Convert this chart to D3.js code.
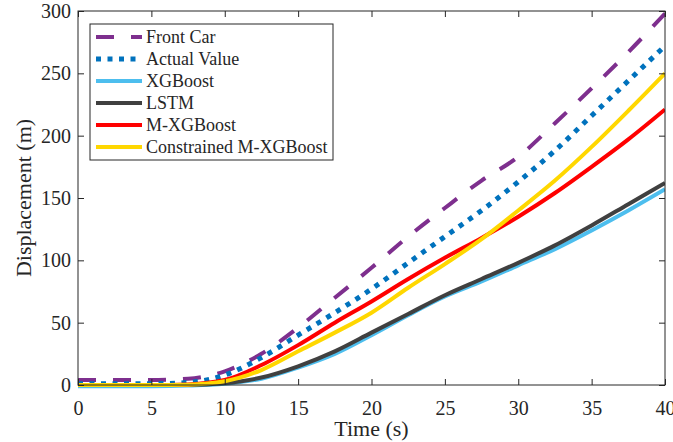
<!DOCTYPE html>
<html>
<head>
<meta charset="utf-8">
<script src="https://cdn.jsdelivr.net/npm/d3@7"></script>
<style>
    body { margin: 0; background: #fff; }
    text { font-family: "Liberation Serif", "Times New Roman", serif; fill: #262626; }
</style>
</head>
<body>
<svg width="673" height="442"></svg>
<script>
/** data */
var times = [0, 2.5, 5, 7.5, 10, 12.5, 15, 17.5, 20, 22.5, 25, 27.5, 30, 32.5, 35, 37.5, 40];
var frontCar = [4, 4, 4, 5, 11, 25, 46, 70, 94, 119, 142, 164, 183, 210, 238, 267, 298];
var actualValue = [1, 1, 1, 2, 8, 22, 40, 58, 77, 98, 119, 140, 163, 188, 216, 244, 272];
var xgboost = [-1, -1, -1, -0.5, 1, 5, 14, 25, 40, 56, 71, 83, 96, 109, 124, 140, 157];
var lstm = [0, 0, 0, 0, 1.5, 6, 15, 27, 42, 57, 72, 85, 98, 112, 128, 145, 162];
var mxgboost = [0, 0, 0, 0.5, 4, 16, 32, 50, 67, 85, 102, 118, 135, 154, 175, 197, 221];
var constrained = [0, 0, 0, 0.3, 3, 12, 27, 42, 58, 78, 97, 117, 140, 164, 191, 220, 250];
var xTicks = [0, 5, 10, 15, 20, 25, 30, 35, 40];
var yTicks = [0, 50, 100, 150, 200, 250, 300];
var seriesNames = ['Front Car', 'Actual Value', 'XGBoost', 'LSTM', 'M-XGBoost', 'Constrained M-XGBoost'];

function DisplacementChart() {
    var dc = this;
    /** Constants */
    dc.margin = { left: 78, right: 8, top: 11, bottom: 57 };
    dc.tickLen = 6;
    dc.axisColor = '#262626';

    dc.series = [
        { name: seriesNames[0], values: frontCar, color: '#7E2F8E', width: 4, dash: '18,17' },
        { name: seriesNames[1], values: actualValue, color: '#0072BD', width: 5, dash: '5,6.5' },
        { name: seriesNames[2], values: xgboost, color: '#4DBEEE', width: 4, dash: null },
        { name: seriesNames[3], values: lstm, color: '#404040', width: 4, dash: null },
        { name: seriesNames[4], values: mxgboost, color: '#FF0000', width: 4, dash: null },
        { name: seriesNames[5], values: constrained, color: '#FFD700', width: 4, dash: null }
    ];

    dc.init = function() {
        dc.svg = d3.select('svg');
        dc.width = +dc.svg.attr('width');
        dc.height = +dc.svg.attr('height');
        dc.x = d3.scaleLinear().domain([0, 40]).range([dc.margin.left, dc.width - dc.margin.right]);
        dc.y = d3.scaleLinear().domain([0, 300]).range([dc.height - dc.margin.bottom, dc.margin.top]);

        renderLines();
        renderAxes();
        renderLegend();
    }

    function renderLines() {
        dc.svg.append('clipPath').attr('id', 'plotClip')
            .append('rect')
            .attr('x', dc.x(0)).attr('y', dc.y(300))
            .attr('width', dc.x(40) - dc.x(0)).attr('height', dc.y(0) - dc.y(300) + 4);

        var line = d3.line()
            .x((d, i) => dc.x(times[i]))
            .y((d) => dc.y(d))
            .curve(d3.curveMonotoneX);

        dc.svg.append('g').attr('clip-path', 'url(#plotClip)')
            .selectAll('path').data(dc.series).enter().append('path')
            .attr('d', (s) => line(s.values))
            .attr('fill', 'none')
            .attr('stroke', (s) => s.color)
            .attr('stroke-width', (s) => s.width)
            .attr('stroke-dasharray', (s) => s.dash);
    }

    function renderAxes() {
        var g = dc.svg.append('g');
        var x0 = dc.x(0), x1 = dc.x(40), y0 = dc.y(0), y1 = dc.y(300);

        // inward ticks on all four sides, like a matlab box
        var bottom = d3.axisBottom(dc.x).tickValues(xTicks).tickSizeInner(-dc.tickLen).tickSizeOuter(0).tickPadding(16);
        var top = d3.axisTop(dc.x).tickValues(xTicks).tickSizeInner(-dc.tickLen).tickSizeOuter(0).tickFormat('');
        var left = d3.axisLeft(dc.y).tickValues(yTicks).tickSizeInner(-dc.tickLen).tickSizeOuter(0).tickPadding(7);
        var right = d3.axisRight(dc.y).tickValues(yTicks).tickSizeInner(-dc.tickLen).tickSizeOuter(0).tickFormat('');

        g.append('g').attr('transform', `translate(0,${y0})`).call(bottom);
        g.append('g').attr('transform', `translate(0,${y1})`).call(top);
        g.append('g').attr('transform', `translate(${x0},0)`).call(left);
        g.append('g').attr('transform', `translate(${x1},0)`).call(right);

        g.selectAll('.domain').remove();
        g.selectAll('.tick line').attr('stroke', dc.axisColor).attr('stroke-width', 1);
        g.selectAll('.tick text')
            .style('font-family', '"Liberation Serif", serif')
            .style('font-size', '20px')
            .attr('fill', dc.axisColor);

        g.append('rect')
            .attr('x', x0).attr('y', y1)
            .attr('width', x1 - x0).attr('height', y0 - y1)
            .attr('fill', 'none').attr('stroke', dc.axisColor).attr('stroke-width', 1);

        dc.svg.append('text')
            .attr('x', (x0 + x1) / 2).attr('y', dc.height - 6)
            .attr('text-anchor', 'middle')
            .style('font-size', '22px')
            .text('Time (s)');

        dc.svg.append('text')
            .attr('transform', `translate(31,${(y0 + y1) / 2}) rotate(-90)`)
            .attr('text-anchor', 'middle')
            .style('font-size', '22px')
            .text('Displacement (m)');
    }

    function renderLegend() {
        var lx = 90, ly = 24, lw = 243, lh = 136;
        var rowH = 22;
        var g = dc.svg.append('g');

        g.append('rect')
            .attr('x', lx).attr('y', ly).attr('width', lw).attr('height', lh)
            .attr('fill', 'white').attr('stroke', dc.axisColor).attr('stroke-width', 1);

        var rows = g.selectAll('.entry').data(dc.series).enter().append('g')
            .attr('class', 'entry')
            .attr('transform', (s, i) => `translate(${lx}, ${ly + 13 + i * rowH})`);

        rows.append('line')
            .attr('x1', 6).attr('x2', 52).attr('y1', 0).attr('y2', 0)
            .attr('stroke', (s) => s.color)
            .attr('stroke-width', (s) => s.width)
            .attr('stroke-dasharray', (s) => s.dash);

        rows.append('text')
            .attr('x', 56).attr('y', 6)
            .style('font-size', '18px')
            .text((s) => s.name);
    }
}

var chart = new DisplacementChart();
chart.init();
</script>
</body>
</html>
